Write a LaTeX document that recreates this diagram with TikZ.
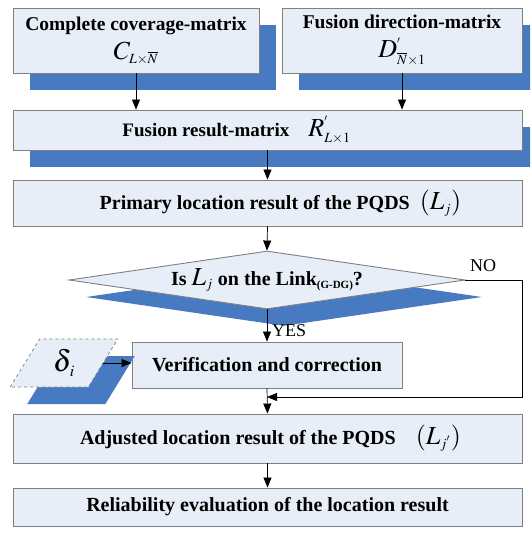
\documentclass[tikz,border=0pt]{standalone}
\usepackage{mathptmx}
\usepackage{fontspec}
\setmainfont{Liberation Serif}
\usetikzlibrary{arrows.meta,shapes.geometric,shadows}
\DeclareMathSizes{26}{26}{14}{10}
\DeclareMathSizes{30}{30}{16}{12}
\definecolor{boxfill}{RGB}{232,238,247}
\definecolor{shd}{RGB}{72,122,193}
\definecolor{bord}{RGB}{128,128,128}
\newcommand{\mbig}{\fontsize{26}{28}\selectfont}
\newcommand{\mhuge}{\fontsize{30}{32}\selectfont}
\begin{document}
\begin{tikzpicture}[x=1pt,y=-1pt,
  box/.style={draw=bord, line width=0.9pt, fill=boxfill, inner sep=0pt, align=center,
    font=\fontsize{20}{24}\selectfont\bfseries},
  shbox/.style={box, general shadow={shadow xshift=17pt, shadow yshift=-17pt, fill=shd}},
  arr/.style={-{Triangle[length=10pt,width=8pt]}, line width=0.7pt},
  lbl/.style={font=\fontsize{18}{20}\selectfont, inner sep=0pt}]
\useasboundingbox (0,0) rectangle (530,545);
\clip (0,0) rectangle (530,545);

\node[shbox, minimum width=246pt, minimum height=65pt, font=\fontsize{19.5}{24}\selectfont\bfseries] (b1) at (136,40.5)
  {Complete coverage-matrix\\[5pt] {\mbig$C_{L\times\overline{N}}$}};
\node[shbox, minimum width=240pt, minimum height=65pt, font=\fontsize{19.5}{24}\selectfont\bfseries] (b2) at (402,40.5)
  {Fusion direction-matrix\\[5pt] {\mbig$D^{'}_{\overline{N}\times 1}$}};
\node[shbox, minimum width=509pt, minimum height=40pt, font=\fontsize{19}{22}\selectfont\bfseries] (b3) at (267.5,130)
  {Fusion result-matrix\quad{\mbig$R^{'}_{L\times 1}$}\hspace*{62pt}};
\node[box, minimum width=509pt, minimum height=46pt] (b4) at (267.5,203)
  {\hspace*{26pt}Primary location result of the PQDS\ \ {\mbig$(L_j)$}};
\node[shbox, diamond, aspect=7, minimum width=396pt, minimum height=58pt] (dia) at (267,280)
  {Is\ {\mbig$L_j$}\ on the Link\raisebox{-3pt}{\fontsize{11}{12}\selectfont(G-DG)}?};
\node[box, minimum width=270pt, minimum height=46pt] (ver) at (267,365)
  {Verification and correction};
\node[trapezium, trapezium left angle=64, trapezium right angle=116, trapezium stretches=true,
  minimum width=108pt, minimum height=48pt, inner sep=0pt, draw=bord, dashed, line width=0.7pt,
  fill=boxfill, general shadow={shadow xshift=17pt, shadow yshift=-17pt, fill=shd}] (para) at (64,363)
  {\mhuge$\delta_{\kern2pt i}$};
\node[box, minimum width=509pt, minimum height=49pt] (adj) at (267.5,438.5)
  {\hspace*{6pt}Adjusted location result of the PQDS\quad{\mbig$(L_{j^{'}})$}};
\node[box, minimum width=509pt, minimum height=38pt] (rel) at (267.5,507)
  {Reliability evaluation of the location result};

\node[lbl, anchor=west] (yes) at (272,331) {YES};
\node[lbl] (no) at (483,266) {NO};

\coordinate (c1) at (522,280);
\coordinate (c2) at (522,397);

\draw[arr] (b1.south) -- (b1.south |- b3.north);
\draw[arr] (b2.south) -- (b2.south |- b3.north);
\draw[arr] (b3.south) -- (b4.north);
\draw[arr] (b4.south) -- (dia.north);
\draw[arr] (dia.south) -- (ver.north);
\draw[arr] (ver.south) -- (adj.north);
\draw[arr] (adj.south) -- (rel.north);
\draw[arr] (para.east) -- (para.east -| ver.west);
\draw[arr, line width=0.5pt] (dia.east) -- (c1) -- (c2) -- (ver.south |- c2);
\end{tikzpicture}
\end{document}
